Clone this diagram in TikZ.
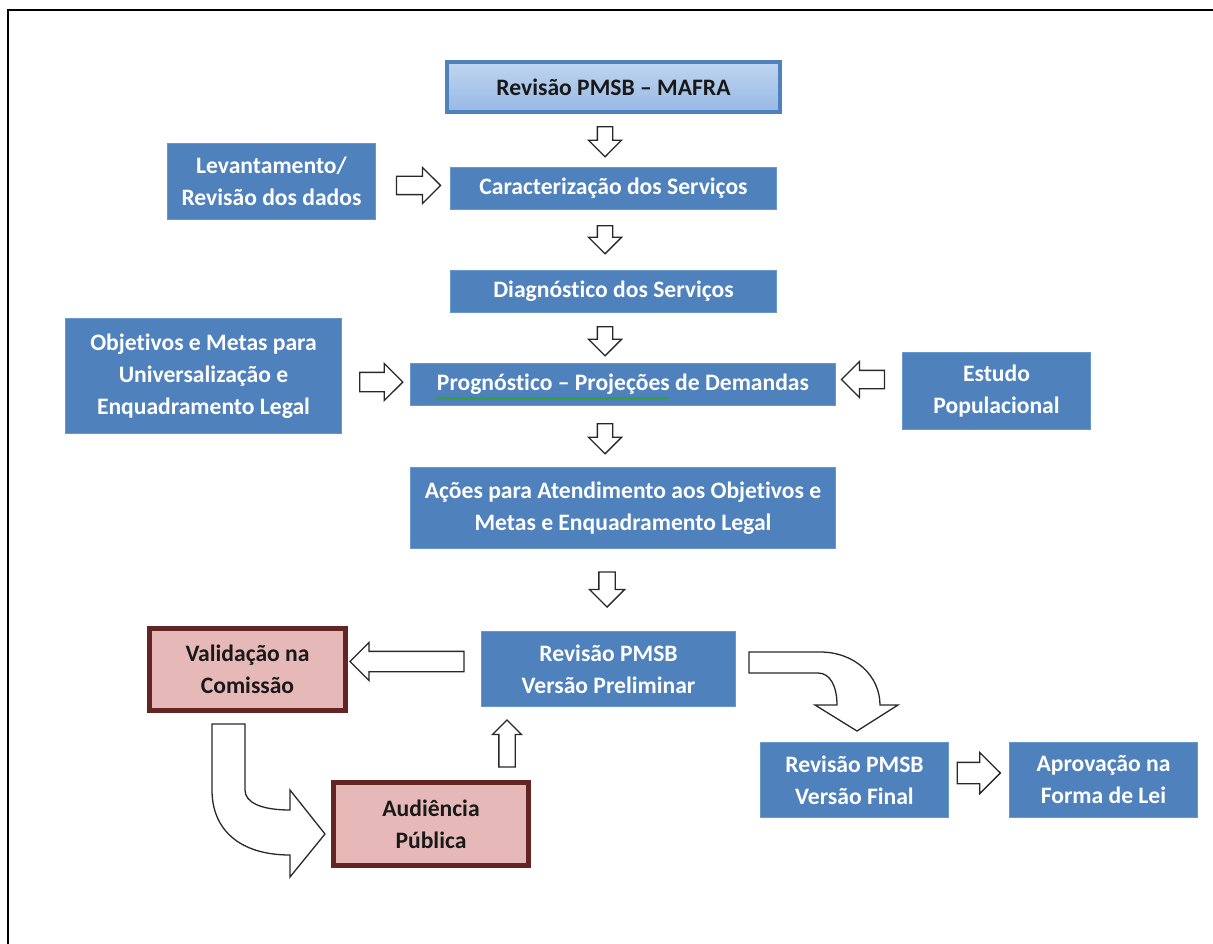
\documentclass[tikz,border=0pt]{standalone}
\usepackage{fontspec}
\setmainfont{Carlito}[Ligatures=NoCommon]
\usetikzlibrary{shapes.arrows,decorations.pathmorphing,calc}

\definecolor{boxblue}{RGB}{79,129,189}
\definecolor{boxedge}{RGB}{104,151,206}
\definecolor{lightA}{RGB}{192,213,240}
\definecolor{lightB}{RGB}{150,185,228}
\definecolor{pinkfill}{RGB}{230,185,184}
\definecolor{wine}{RGB}{99,37,35}
\definecolor{arrowline}{RGB}{40,40,40}
\definecolor{spellgreen}{RGB}{50,160,50}

\begin{document}
\begin{tikzpicture}[x=1pt,y=-1pt,
  base/.style={font=\bfseries\fontsize{23.6}{32}\selectfont, align=center,
    inner sep=0pt, outer sep=0pt},
  bluebox/.style={base, fill=boxblue, draw=boxedge, line width=1pt, text=white},
  titlebox/.style={base, top color=lightA, bottom color=lightB, draw=boxblue,
    line width=4pt, text=black!90},
  pinkbox/.style={base, fill=pinkfill, draw=wine, line width=5pt, text=black!90},
  % block arrow: {length}{head width}{shaft half width}{head extend}
  blk/.style n args={4}{shape=single arrow, fill=white, draw=arrowline,
    line width=1.3pt, single arrow tip angle=90, single arrow head indent=0pt,
    inner xsep=0pt, outer sep=0pt, minimum height=#1, minimum width=#2,
    inner ysep=#3, single arrow head extend=#4},
  bentarrow/.style={fill=white, draw=arrowline, line width=1.3pt, line join=miter},
]
\useasboundingbox (0,0) rectangle (1213,944);

% page frame
\draw[line width=2pt] (8,944) -- (8,10) -- (1213,10);

% boxes
\node[titlebox, minimum width=333pt, minimum height=50pt] (top) at (613.5,87)
  {Revisão PMSB – MAFRA};
\node[bluebox, minimum width=208pt, minimum height=76pt] (lev) at (271.5,181.5)
  {Levantamento/\\Revisão dos dados};
\node[bluebox, minimum width=326pt, minimum height=42pt] (car) at (613.5,188.5)
  {Caracterização dos Serviços};
\node[bluebox, minimum width=326pt, minimum height=42pt] (diag) at (613.5,291.5)
  {Diagnóstico dos Serviços};
\node[bluebox, minimum width=276pt, minimum height=115pt] (obj) at (203.5,376)
  {Objetivos e Metas para\\Universalização e\\Enquadramento Legal};
\node[bluebox, minimum width=425pt, minimum height=42pt] (prog) at (623,384.5)
  {Prognóstico – Projeções de Demandas};
\node[bluebox, minimum width=188pt, minimum height=77pt] (est) at (996.5,391)
  {Estudo\\Populacional};
\node[bluebox, minimum width=425pt, minimum height=81pt] (acoes) at (623,508)
  {Ações para Atendimento aos Objetivos e\\Metas e Enquadramento Legal};
\node[bluebox, minimum width=254pt, minimum height=75pt] (prel) at (608.5,669)
  {Revisão PMSB\\Versão Preliminar};
\node[pinkbox, minimum width=196pt, minimum height=82pt] (val) at (247.5,669.5)
  {Validação na\\Comissão};
\node[pinkbox, minimum width=195pt, minimum height=83pt] (aud) at (431,824)
  {Audiência\\Pública};
\node[bluebox, minimum width=188pt, minimum height=75pt] (fin) at (854.5,780)
  {Revisão PMSB\\Versão Final};
\node[bluebox, minimum width=188pt, minimum height=75pt] (apr) at (1103.5,780)
  {Aprovação na\\Forma de Lei};

% spell-check underline
\draw[spellgreen, line width=1pt, decorate,
  decoration={snake, amplitude=1.3pt, segment length=4pt}]
  ($(prog.west)+(26,14)$) -- ++(232,0);

% straight block arrows between the boxes
\node[blk={30pt}{32pt}{7pt}{9pt}, rotate=-90] (a1) at (605,138) {};
\node[blk={44pt}{35pt}{8.5pt}{9pt}] (a2) at (414,185.5) {};
\node[blk={28pt}{32pt}{7pt}{9pt}, rotate=-90] (a3) at (605,236) {};
\node[blk={29pt}{32pt}{7pt}{9pt}, rotate=-90] (a4) at (605,337.5) {};
\node[blk={43pt}{36pt}{9pt}{9pt}] (a5) at (376.5,382) {};
\node[blk={43pt}{35pt}{8.5pt}{9pt}, rotate=180] (a6) at (867.5,379.5) {};
\node[blk={30pt}{32pt}{7pt}{9pt}, rotate=-90] (a7) at (605,435) {};
\node[blk={35pt}{34pt}{7.5pt}{9.5pt}, rotate=-90] (a8) at (607,585.5) {};
\node[blk={114pt}{37pt}{9.5pt}{9pt}, rotate=180] (a9) at (412,661.5) {};
\node[blk={47pt}{28pt}{7.5pt}{6.5pt}, rotate=90] (a10) at (507,747.5) {};
\node[blk={43pt}{40pt}{10pt}{10pt}] (a11) at (973.5,773) {};

% bent arrow towards the final version
\draw[bentarrow] (749,652) -- (820,652)
  .. controls (855,652) and (880,676) .. (880,705)
  -- (898,705) -- (857,731) -- (815,705) -- (837,705)
  .. controls (837,686) and (830,673) .. (818,673)
  -- (749,673) -- cycle;

% bent arrow from the commission to the public hearing
\draw[bentarrow] (212,724) -- (245,724) -- (245,790)
  .. controls (245,802) and (260,810) .. (290,810)
  -- (290,790) -- (325,834) -- (290,877) -- (290,855)
  .. controls (240,855) and (212,830) .. (212,790)
  -- cycle;
\end{tikzpicture}
\end{document}
